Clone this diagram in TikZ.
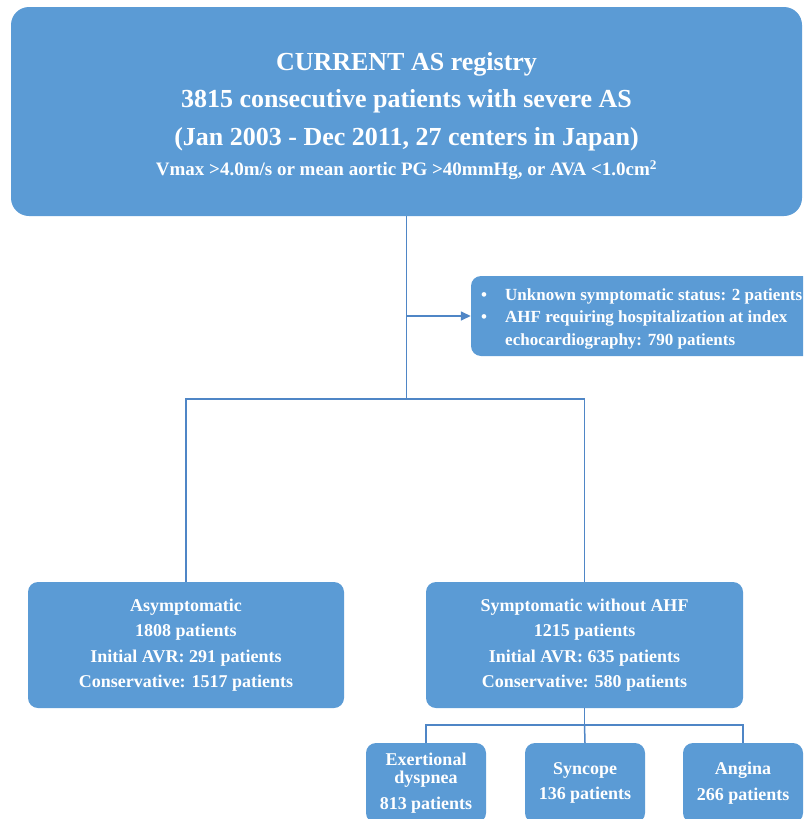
\documentclass[tikz,border=0pt]{standalone}
\usepackage{fontspec}
\setmainfont{Liberation Serif}
\usetikzlibrary{arrows.meta}
\definecolor{boxblue}{HTML}{5B9BD5}
\definecolor{lineblue}{HTML}{4F86C6}
\begin{document}
\begin{tikzpicture}[x=1pt,y=-1pt,
  box/.style={fill=boxblue, rounded corners=10pt, text=white, align=center,
              font=\bfseries\fontsize{18}{25.5}\selectfont, inner sep=0pt},
  whitetext/.style={text=white, inner sep=0pt},
  conn/.style={draw=lineblue, line width=1.5pt}]
\useasboundingbox (0,0) rectangle (803,819);
\clip (0,0) rectangle (803,819);
% top box
\node[box, rounded corners=18pt, minimum width=791pt, minimum height=209pt] (top) at (406.5,111.5) {};
\node[whitetext, align=center, font=\bfseries\fontsize{26}{37.5}\selectfont] (toptext) at (406.5,116)
  {CURRENT AS registry\\3815 consecutive patients with severe AS\\(Jan 2003 - Dec 2011, 27 centers in Japan)\\[-7.5pt]{\fontsize{19}{22}\selectfont Vmax >4.0m/s or mean aortic PG >40mmHg, or AVA <1.0cm\textsuperscript{2}}};
% side box
\node[box, minimum width=344pt, minimum height=80pt] (side) at (643,316) {};
\node[whitetext, anchor=west, font=\bfseries\fontsize{17}{22.5}\selectfont] (sidetext) at (481,318)
  {\begin{tabular}{@{}l@{}l@{}}
   \makebox[24pt][l]{\textbullet} & Unknown symptomatic status: 2 patients\\
   \makebox[24pt][l]{\textbullet} & AHF requiring hospitalization at index\\
   & echocardiography: 790 patients
   \end{tabular}};
% middle boxes
\node[box, minimum width=316pt, minimum height=126pt] (asym) at (186,645)
  {Asymptomatic\\1808 patients\\Initial AVR: 291 patients\\Conservative: 1517 patients};
\node[box, minimum width=317pt, minimum height=126pt] (sym) at (584.5,645)
  {Symptomatic without AHF\\1215 patients\\Initial AVR: 635 patients\\Conservative: 580 patients};
% bottom boxes
\node[box, minimum width=120pt, minimum height=80pt] (exer) at (426,783)
  {Exertional\\[-7.2pt]dyspnea\\813 patients};
\node[box, minimum width=120pt, minimum height=80pt] (sync) at (585,783)
  {Syncope\\136 patients};
\node[box, minimum width=120pt, minimum height=80pt] (ang) at (743,783)
  {Angina\\266 patients};
% connectors
\coordinate (j1) at (406.5,399);
\coordinate (j2) at (406.5,316);
\coordinate (j3) at (584.5,725);
\draw[conn] (top.south) -- (j1);
\draw[conn] (asym.north) |- (j1) -| (sym.north);
\draw[conn, -{Triangle[length=10pt,width=9pt]}] (j2) -- (side.west);
\draw[conn] (sym.south) -- (j3);
\draw[conn] (exer.north) |- (j3) -| (ang.north);
\draw[conn] (j3) -- (sync.north);
\end{tikzpicture}
\end{document}
